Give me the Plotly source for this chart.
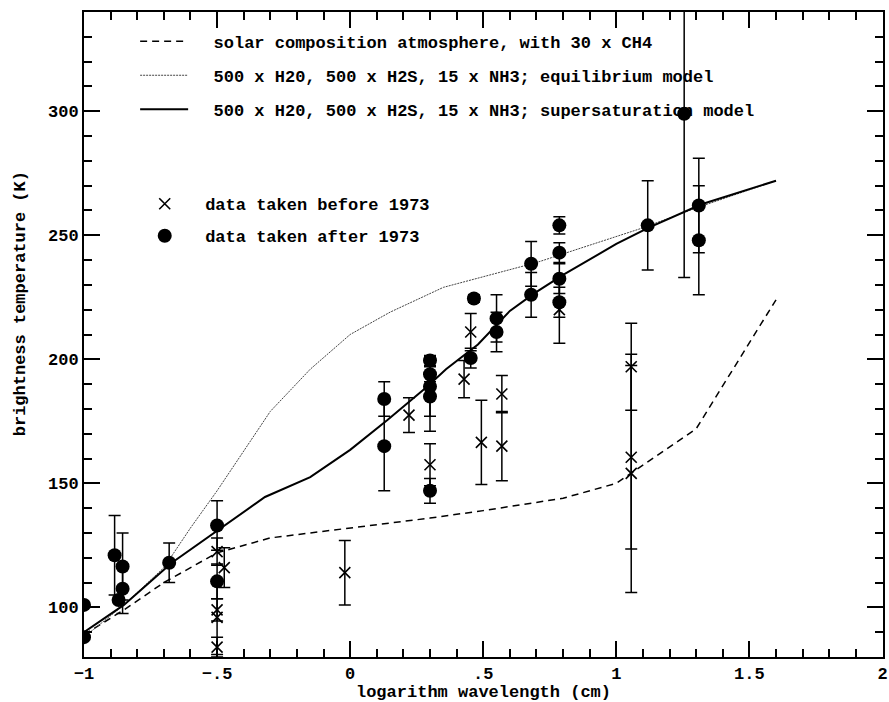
import plotly.graph_objects as go

# ---- model curves ----
solar_x = [-1.0, -0.85, -0.7, -0.5, -0.3, 0.0, 0.3, 0.5, 0.8, 1.0, 1.3, 1.6]
solar_t = [89, 99, 110, 122, 128, 132, 136, 139, 144, 150, 172, 224]

equil_x = [-1.0, -0.85, -0.7, -0.6, -0.5, -0.3, -0.15, 0.0, 0.15, 0.35, 0.7, 1.1, 1.3, 1.6]
equil_t = [88, 101, 116, 132, 147, 179, 196, 210, 219, 229, 239, 253, 261, 272]

super_x = [-1.0, -0.85, -0.67, -0.48, -0.32, -0.15, 0.0, 0.14, 0.29, 0.36, 0.48, 0.6, 0.69, 0.8, 1.0, 1.12, 1.32, 1.6]
super_t = [90, 101, 118, 132.5, 144.5, 152.5, 163.5, 175.5, 189, 196, 206, 219.5, 226.5, 234, 246.5, 253, 262.5, 272]

# ---- data taken after 1973 (filled dots) ----
after_x = [-1.0, -1.0, -0.885, -0.855, -0.855, -0.87, -0.68, -0.5, -0.5, 0.128, 0.128,
           0.30, 0.30, 0.30, 0.30, 0.30, 0.465, 0.453, 0.55, 0.55, 0.68, 0.68,
           0.786, 0.786, 0.786, 0.786, 1.118, 1.255, 1.31, 1.31]
after_t = [101, 88, 121, 116.5, 107.5, 103, 118, 133, 110.5, 184, 165,
           147, 199.5, 194, 189, 185, 224.5, 200.5, 216.5, 211, 238.5, 226,
           254, 243, 232.5, 223, 254, 299, 262, 248]
after_err = [0, 0, 16, 13.5, 10, 0, 8, 10, 7, 7, 18,
             5, 2, 3, 12, 14, 1.5, 4, 9.5, 8, 9, 9,
             3.5, 4, 6, 6, 18, 66, 19, 22]

# ---- data taken before 1973 (crosses) ----
before_x = [-0.5, -0.473, -0.5, -0.5, -0.5, -0.02, 0.221, 0.30, 0.428, 0.453, 0.493,
            0.57, 0.57, 0.786, 1.056, 1.056, 1.056]
before_t = [122.5, 116, 99, 96, 84, 114, 177.5, 157.5, 192, 211, 166.5,
            186, 165, 220, 197, 160.5, 154]
before_err = [5.5, 8, 4.5, 15, 4, 13, 7, 8.5, 7.5, 7.5, 17,
              7.5, 14, 13.5, 17.5, 37, 48]

# ---- axis ticks ----
x_tickvals = [-1, -0.5, 0, 0.5, 1, 1.5, 2]
x_ticktext = ["\u22121", "\u2212.5", "0", ".5", "1", "1.5", "2"]
y_tickvals = [100, 150, 200, 250, 300]

FONT = "Liberation Mono"
PAD = "\u00a0\u00a0"

fig = go.Figure()

fig.add_trace(go.Scatter(
    x=solar_x, y=solar_t, mode="lines",
    line=dict(color="black", width=1.5, dash="7px,5px"),
    name=PAD + "solar composition atmosphere, with 30 x CH4",
    legend="legend", legendgroup="a"))
fig.add_trace(go.Scatter(
    x=equil_x, y=equil_t, mode="lines",
    line=dict(color="#444444", width=1, dash="2px,1px"),
    name=PAD + "500 x H20, 500 x H2S, 15 x NH3; equilibrium model",
    legend="legend", legendgroup="b"))
fig.add_trace(go.Scatter(
    x=super_x, y=super_t, mode="lines",
    line=dict(color="black", width=2),
    name=PAD + "500 x H20, 500 x H2S, 15 x NH3; supersaturation model",
    legend="legend", legendgroup="c"))

fig.add_trace(go.Scatter(
    x=before_x, y=before_t, mode="markers",
    marker=dict(symbol="x-thin", size=11, color="black",
                line=dict(color="black", width=1.6)),
    error_y=dict(type="data", array=before_err, visible=True,
                 color="black", thickness=1.5, width=6),
    name=PAD + "data taken before 1973",
    legend="legend2", legendgroup="d"))
fig.add_trace(go.Scatter(
    x=after_x, y=after_t, mode="markers",
    marker=dict(symbol="circle", size=14, color="black"),
    error_y=dict(type="data", array=after_err, visible=True,
                 color="black", thickness=1.5, width=6),
    name=PAD + "data taken after 1973",
    legend="legend2", legendgroup="e"))

axis_common = dict(
    showline=True, linecolor="black", linewidth=2,
    ticks="inside", ticklen=16, tickwidth=1.5, tickcolor="black",
    mirror="allticks", showgrid=False, zeroline=False,
    ticklabeloverflow="allow",
    tickfont=dict(family=FONT, size=17, color="black", weight="bold"),
)

fig.update_xaxes(
    range=[-1, 2.002], tickvals=x_tickvals, ticktext=x_ticktext,
    minor=dict(ticks="inside", ticklen=8, tickwidth=1.5, tickcolor="black", dtick=0.1, tick0=0),
    title=dict(text="logarithm wavelength (cm)",
               font=dict(family=FONT, size=17, color="black", weight="bold"), standoff=2),
    **axis_common)
fig.update_yaxes(
    range=[80, 340], tickvals=y_tickvals,
    minor=dict(ticks="inside", ticklen=8, tickwidth=1.5, tickcolor="black", dtick=10, tick0=0),
    **axis_common)

fig.add_annotation(
    text="brightness temperature (K)", textangle=-90,
    xref="paper", yref="paper", x=-0.08, y=0.547, xanchor="center", yanchor="middle",
    showarrow=False, font=dict(family=FONT, size=17, color="black", weight="bold"))

legend_font = dict(family=FONT, size=17, color="black", weight="bold")
fig.update_layout(
    width=889, height=702,
    margin=dict(l=84, r=1, t=12, b=45),
    paper_bgcolor="white", plot_bgcolor="white",
    legend=dict(x=0.064, y=0.982, xanchor="left", yanchor="top",
                bgcolor="rgba(0,0,0,0)", font=legend_font,
                traceorder="grouped", tracegroupgap=9, itemwidth=48),
    legend2=dict(x=0.076, y=0.73, xanchor="left", yanchor="top",
                 bgcolor="rgba(0,0,0,0)", font=legend_font,
                 traceorder="grouped", tracegroupgap=7, itemwidth=30),
)

fig.write_html("out.html")
